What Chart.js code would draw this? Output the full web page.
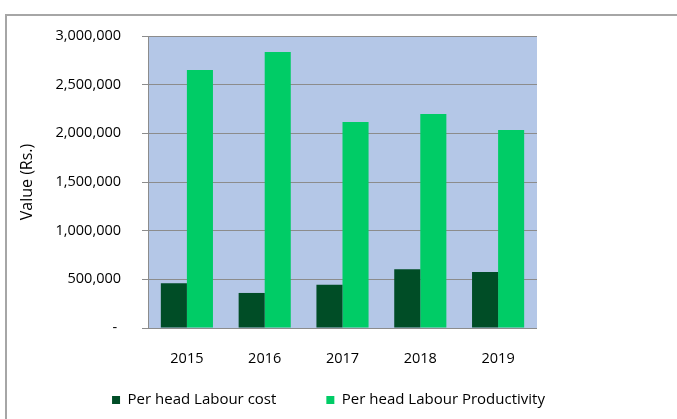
<!DOCTYPE html>
<html>
<head>
<meta charset="utf-8">
<script src="https://cdn.jsdelivr.net/npm/chart.js@4.4.1/dist/chart.umd.min.js"></script>
<style>
    html, body { margin: 0; padding: 0; background: #fff; overflow: hidden; }
    .frame {
        position: absolute; left: 5px; top: 14px; width: 700px; height: 440px;
        border-left: 2px solid #a6a6a6; border-top: 2px solid #a6a6a6;
    }
    #wrap { position: absolute; left: 0; top: 0; width: 677px; height: 419px; }
</style>
</head>
<body>
<div class="frame"></div>
<div id="wrap"><canvas id="chart" width="677" height="419"></canvas></div>
<script>
// 人均劳动成本 vs 人均劳动生产率
const years = ['2015', '2016', '2017', '2018', '2019'];
const labourCost = [459000, 360000, 445000, 603000, 575000];
const labourProductivity = [2650000, 2835000, 2116000, 2198000, 2034000];
const yTicks = [0, 500000, 1000000, 1500000, 2000000, 2500000, 3000000];

const FAMILY = '"Open Sans", Lato, sans-serif';
const TICK_FONT = { family: FAMILY, size: 14.5 };
const LEGEND_FONT = { family: FAMILY, size: 15 };
const TITLE_FONT = { family: FAMILY, size: 16 };
const LEGEND_GAP = 50;   // 图例两项之间的水平间距

// 绘图区浅蓝底色
const plotBg = {
    id: 'plotBg',
    beforeDraw(chart) {
        const { ctx, chartArea: a } = chart;
        ctx.save();
        ctx.fillStyle = '#b4c7e7';
        ctx.fillRect(a.left, a.top, a.right - a.left, a.bottom - a.top);
        ctx.restore();
    }
};

// 图例项间距要宽，但图例盒子高度保持紧凑（padding 同时控制上下留白）
const compactLegend = {
    id: 'compactLegend',
    afterInit(chart) {
        const lg = chart.legend;
        if (!lg) return;
        const origFit = lg.fit.bind(lg);
        lg.fit = function () {
            origFit();
            this.height = 51;
        };
        lg.draw = function () {
            if (!this.options.display) return;
            const ctx = this.ctx;
            ctx.save();
            ctx.translate(0, -25.5);
            this._draw();
            ctx.restore();
        };
    }
};

new Chart(document.getElementById('chart'), {
    type: 'bar',
    data: {
        labels: years,
        datasets: [
            { label: 'Per head Labour cost', data: labourCost, backgroundColor: '#004d26' },
            { label: 'Per head Labour Productivity', data: labourProductivity, backgroundColor: '#00cc66' }
        ]
    },
    options: {
        responsive: false,
        animation: false,
        events: [],
        layout: { padding: { left: 16, right: 36, top: 36, bottom: 0 } },
        datasets: { bar: { barPercentage: 1, categoryPercentage: 0.67 } },
        scales: {
            x: {
                grid: { display: false, drawTicks: false },
                border: { display: false },
                ticks: { color: '#000', font: TICK_FONT, padding: 22 },
                afterFit: s => { s.height = 40; }
            },
            y: {
                min: 0, max: 3000000,
                afterBuildTicks: s => { s.ticks = yTicks.map(v => ({ value: v })); },
                grid: { color: '#8c8c8c', lineWidth: 1, tickLength: 6 },
                border: { color: '#8c8c8c', width: 1 },
                ticks: {
                    color: '#000', font: TICK_FONT, padding: 21,
                    callback: v => v === 0 ? '- ' : v.toLocaleString('en-US')
                },
                title: { display: true, text: 'Value (Rs.)', color: '#000', font: TITLE_FONT, padding: { top: 2, bottom: 0 } },
                afterFit: s => { s.width = 132; }
            },
            yPad: {
                position: 'right',
                display: true,
                grid: { display: false },
                border: { display: false },
                ticks: { display: false },
                afterFit: s => { s.width = 104; }
            }
        },
        plugins: {
            legend: {
                position: 'bottom',
                labels: { boxWidth: 8, boxHeight: 8, padding: LEGEND_GAP, color: '#000', font: LEGEND_FONT }
            },
            tooltip: { enabled: false }
        }
    },
    plugins: [plotBg, compactLegend]
});
</script>
</body>
</html>
